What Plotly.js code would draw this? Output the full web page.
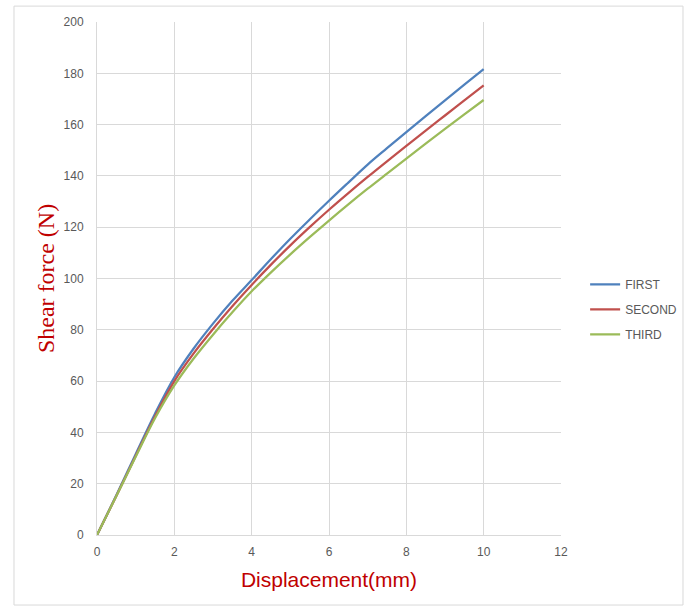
<!DOCTYPE html>
<html>
<head>
<meta charset="utf-8">
<script src="https://cdn.plot.ly/plotly-3.0.1.min.js"></script>
<style>html,body{margin:0;padding:0;background:#fff;}#chart{width:688px;height:607px;}</style>
</head>
<body>
<div id="chart"></div>
<script>
var displacement = [0, 0.5, 1, 1.5, 2, 2.5, 3, 3.5, 4, 4.5, 5, 5.5, 6, 6.5, 7, 7.5, 8, 8.5, 9, 9.5, 10];
var first  = [0, 15.5, 31.5, 47.3, 61.5, 72.7, 82.4, 91.3, 99.4, 107.6, 115.5, 123, 130.3, 137.4, 144.4, 150.8, 157.1, 163.3, 169.45, 175.55, 181.6];
var second = [0, 15.2, 30.8, 46.2, 60, 70.8, 80.3, 89.2, 97.5, 105.4, 112.9, 120, 126.8, 133.3, 139.6, 145.7, 151.7, 157.65, 163.55, 169.45, 175.3];
var third  = [0, 15.2, 30.5, 45.5, 58.3, 68.8, 78.1, 86.8, 95, 102.4, 109.4, 116.1, 122.6, 128.9, 135, 140.9, 146.75, 152.55, 158.3, 164, 169.6];
var seriesNames = ["FIRST", "SECOND", "THIRD"];
var seriesColors = ["#4F81BD", "#C0504D", "#9BBB59"];
var seriesData = [first, second, third];

var traces = seriesData.map(function(ys, i){
  return {
    x: displacement, y: ys, type: "scatter", mode: "lines",
    name: seriesNames[i], legendgroup: "g" + i,
    line: {color: seriesColors[i], width: 2.25, shape: "spline", smoothing: 1}
  };
});

var layout = {
  width: 688, height: 607,
  margin: {l: 97, r: 127, t: 22, b: 72, autoexpand: false},
  paper_bgcolor: "#ffffff", plot_bgcolor: "#ffffff",
  font: {family: "Liberation Sans, Arial, sans-serif", color: "#595959", size: 12},
  showlegend: true,
  legend: {x: 1.052, y: 0.44, xanchor: "left", yanchor: "middle",
    font: {size: 12, color: "#595959"}, tracegroupgap: 6, traceorder: "grouped",
    itemwidth: 30, bgcolor: "rgba(0,0,0,0)"},
  xaxis: {
    range: [0, 12], dtick: 2, tick0: 0, showgrid: true, gridcolor: "#D9D9D9", gridwidth: 1,
    showline: true, linecolor: "#D9D9D9", linewidth: 1, zeroline: false, ticks: "",
    tickfont: {size: 12, color: "#595959"}, ticklabelstandoff: 6,
    title: {text: "Displacement(mm)", font: {family: "Liberation Sans, Arial, sans-serif", size: 21, color: "#C00000"}, standoff: 13}
  },
  yaxis: {
    range: [0, 200], dtick: 20, tick0: 0, showgrid: true, gridcolor: "#D9D9D9", gridwidth: 1,
    showline: true, linecolor: "#D9D9D9", linewidth: 1, zeroline: false, ticks: "",
    tickfont: {size: 12, color: "#595959"}, ticklabelstandoff: 10,
    title: {text: "Shear force (N)", font: {family: "Liberation Serif, Times New Roman, serif", size: 24, color: "#C00000"}, standoff: 2}
  },
  shapes: [{
    type: "rect", xref: "paper", yref: "paper",
    x0: -0.1789, x1: 1.2629, y0: -0.1365, y1: 1.031,
    line: {color: "#D9D9D9", width: 1}, fillcolor: "rgba(0,0,0,0)", layer: "below"
  }]
};

Plotly.newPlot("chart", traces, layout, {displayModeBar: false, staticPlot: true});
</script>
</body>
</html>
